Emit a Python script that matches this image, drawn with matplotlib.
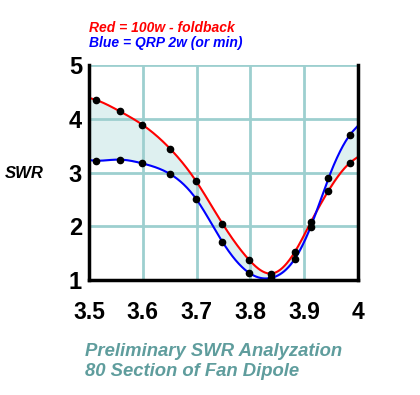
import numpy as np
import matplotlib.pyplot as plt

# frequency (MHz) of the measured points
freq = [3.513, 3.557, 3.599, 3.651, 3.699, 3.748, 3.798, 3.839, 3.883, 3.912, 3.945, 3.985]
# SWR at 100w (foldback) - red
swr_red = [4.35, 4.14, 3.89, 3.44, 2.84, 2.05, 1.37, 1.12, 1.53, 2.07, 2.66, 3.18]
# SWR at QRP 2w - blue
swr_blue = [3.22, 3.24, 3.17, 2.97, 2.51, 1.71, 1.13, 1.04, 1.40, 1.99, 2.89, 3.70]
# where the curves meet the left / right axis edge
red_edges = [4.39, 3.29]
blue_edges = [3.23, 3.87]

x_ticks = [3.5, 3.6, 3.7, 3.8, 3.9, 4.0]
x_labels = ["3.5", "3.6", "3.7", "3.8", "3.9", "4"]
y_ticks = [1, 2, 3, 4, 5]


def natural_spline(x, y, xs):
    # plain natural cubic spline, just for drawing the smooth line
    x = np.asarray(x, float)
    y = np.asarray(y, float)
    n = len(x)
    h = np.diff(x)
    A = np.zeros((n, n))
    b = np.zeros(n)
    A[0, 0] = A[-1, -1] = 1
    for i in range(1, n - 1):
        A[i, i - 1] = h[i - 1]
        A[i, i] = 2 * (h[i - 1] + h[i])
        A[i, i + 1] = h[i]
        b[i] = 3 * ((y[i + 1] - y[i]) / h[i] - (y[i] - y[i - 1]) / h[i - 1])
    c = np.linalg.solve(A, b)
    idx = np.clip(np.searchsorted(x, xs) - 1, 0, n - 2)
    dx = xs - x[idx]
    bb = (y[idx + 1] - y[idx]) / h[idx] - h[idx] * (2 * c[idx] + c[idx + 1]) / 3
    dd = (c[idx + 1] - c[idx]) / (3 * h[idx])
    return y[idx] + bb * dx + c[idx] * dx ** 2 + dd * dx ** 3


curve_x = [3.5] + freq + [4.0]
red_curve = [red_edges[0]] + swr_red + [red_edges[1]]
blue_curve = [blue_edges[0]] + swr_blue + [blue_edges[1]]

xs = np.linspace(3.5, 4.0, 500)
red_s = natural_spline(curve_x, red_curve, xs)
blue_s = natural_spline(curve_x, blue_curve, xs)

fig = plt.figure(figsize=(4.2, 3.95), dpi=100)
ax = fig.add_axes([89 / 420, 115 / 395, 269 / 420, 215 / 395])

grid_col = "#9dcfcf"
ax.fill_between(xs, red_s, blue_s, color="#def0f0", zorder=1)
for t in x_ticks[1:-1]:
    ax.axvline(t, color=grid_col, lw=2, zorder=2)
for t in y_ticks[1:]:
    ax.axhline(t, color=grid_col, lw=2, zorder=2)

ax.plot(xs, red_s, color="#ff0000", lw=1.5, zorder=3)
ax.plot(xs, blue_s, color="#0000ff", lw=1.5, zorder=3)
ax.plot(freq, swr_red, "o", color="black", ms=4.5, zorder=4)
ax.plot(freq, swr_blue, "o", color="black", ms=4.5, zorder=4)

ax.set_xlim(3.5, 4.0)
ax.set_ylim(1, 5)
ax.set_xticks(x_ticks)
ax.set_xticklabels(x_labels)
ax.set_yticks(y_ticks)
ax.tick_params(axis="x", length=0, pad=15, labelsize=16.5)
ax.tick_params(axis="y", length=0, pad=5, labelsize=17)
for lab in ax.get_xticklabels() + ax.get_yticklabels():
    lab.set_fontweight("bold")
    lab.set_family("Liberation Sans")

ax.spines["top"].set_visible(False)
for s in ["left", "right", "bottom"]:
    ax.spines[s].set_linewidth(2.5)
    ax.spines[s].set_color("black")
    ax.spines[s].set_zorder(5)

font = dict(family="Liberation Sans", weight="bold", style="italic")
fig.text(89 / 420, 1 - 28 / 395, "Red = 100w - foldback", color="#ff0000",
         fontsize=10, va="center", **font)
fig.text(89 / 420, 1 - 43 / 395, "Blue = QRP 2w (or min)", color="#0000ff",
         fontsize=10, va="center", **font)
fig.text(5 / 420, 1 - 173 / 395, "SWR", color="black", fontsize=12,
         va="center", **font)
fig.text(85 / 420, 1 - 352 / 395, "Preliminary SWR Analyzation", color="#5f9d9d",
         fontsize=13.3, va="center", **font)
fig.text(85 / 420, 1 - 371 / 395, "80 Section of Fan Dipole", color="#5f9d9d",
         fontsize=13.3, va="center", **font)

fig.savefig("out.png", dpi=100)
